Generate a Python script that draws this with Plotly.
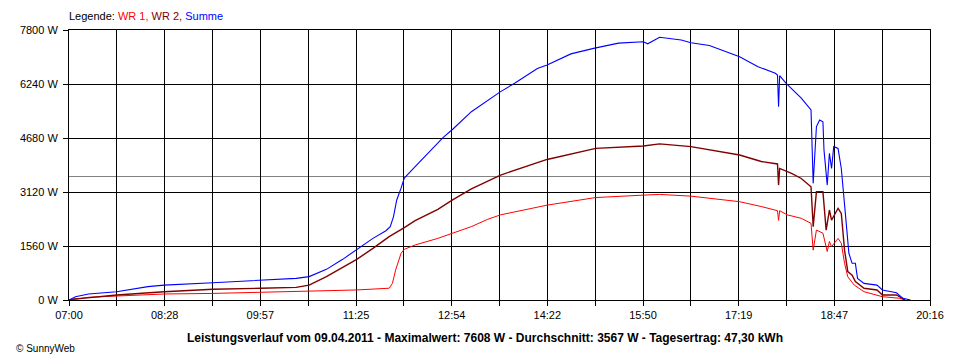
import plotly.graph_objects as go

# ---- data ----
wr1_time = ["07:00","07:05","07:18","07:44","08:28","09:13","09:57","10:30","11:26","11:56","11:59","12:02",
            "12:07","12:10","12:20","12:41","13:12","13:27","13:39","14:22","15:07","15:51","16:06","16:35",
            "17:20","17:40","17:53","17:55","17:56","17:57","18:04","18:17","18:26","18:28","18:31","18:37",
            "18:41","18:43","18:45","18:51","18:54","18:57","19:00","19:06","19:15","19:32","19:48","19:53"]
wr1_watt = [0,20,78,115,173,190,220,240,290,340,480,870,
            1350,1465,1590,1780,2120,2330,2460,2740,2960,3030,3050,3000,
            2840,2700,2600,2580,2300,2580,2460,2360,2215,1440,2020,1930,
            1400,1690,1540,1780,1640,1060,670,430,240,95,50,0]

wr2_time = ["07:00","07:05","07:12","07:44","08:28","09:13","09:57","10:30","10:42","10:58","11:13","11:26",
            "11:41","11:56","12:10","12:20","12:41","12:55","13:12","13:39","14:22","15:07","15:51","16:06",
            "16:35","17:20","17:40","17:53","17:55","17:56","17:57","18:08","18:17","18:26","18:28","18:31",
            "18:37","18:40","18:43","18:45","18:51","18:54","18:57","19:00","19:04","19:07","19:15","19:27",
            "19:32","19:45","19:53"]
wr2_watt = [0,30,48,145,240,310,340,365,430,675,940,1175,
            1490,1830,2090,2290,2620,2900,3210,3610,4060,4380,4450,4510,
            4430,4190,4000,3950,3930,3320,3800,3660,3510,3270,2120,3130,
            3130,2020,2600,2310,2650,2500,1440,820,720,530,340,290,
            145,145,0]

sum_time = ["07:00","07:06","07:18","07:44","08:13","08:28","09:13","09:57","10:30","10:42","10:58","11:13",
            "11:26","11:41","11:53","11:57","12:00","12:03","12:07","12:10","12:20","12:46","12:55","13:12",
            "13:39","13:52","14:13","14:22","14:44","15:05","15:28","15:51","15:55","16:06","16:26","16:35",
            "16:52","17:20","17:37","17:53","17:55","17:56","17:57","18:03","18:17","18:26","18:28","18:31",
            "18:34","18:37","18:38","18:41","18:43","18:45","18:47","18:51","18:54","18:56","18:58","19:01",
            "19:04","19:07","19:09","19:15","19:27","19:32","19:45","19:51","19:58"]
sum_watt = [0,96,173,240,385,430,500,560,625,675,885,1175,
            1465,1780,2000,2120,2410,2890,3230,3520,3850,4700,4940,5440,
            6020,6260,6690,6790,7110,7270,7420,7460,7400,7590,7510,7430,
            7350,7030,6740,6550,6500,5580,6480,6260,5830,5490,3370,5010,
            5200,5150,4330,3320,4240,3800,4430,4380,3800,3180,2410,1350,
            1060,1060,625,480,430,290,210,48,0]

x_tick_labels = ["07:00","08:28","09:57","11:25","12:54","14:22","15:50","17:19","18:47","20:16"]
y_tick_values = [0, 1560, 3120, 4680, 6240, 7800]
y_tick_labels = ["0 W", "1560 W", "3120 W", "4680 W", "6240 W", "7800 W"]
AVERAGE = 3567
title_text = "Leistungsverlauf vom 09.04.2011 - Maximalwert: 7608 W - Durchschnitt: 3567 W - Tagesertrag: 47,30 kWh"

def to_min(s):
    h, m = s.split(":")
    return int(h) * 60 + int(m)

t_start = to_min(x_tick_labels[0])
t_end = to_min(x_tick_labels[-1])
n_grid = (len(x_tick_labels) - 1) * 2
grid_vals = [t_start + (t_end - t_start) * i / n_grid for i in range(n_grid + 1)]
grid_text = [x_tick_labels[i // 2] if i % 2 == 0 else "" for i in range(n_grid + 1)]

FONT = "Liberation Sans, Arial, sans-serif"

fig = go.Figure()
fig.add_trace(go.Scatter(x=[to_min(t) for t in wr1_time], y=wr1_watt, mode="lines",
                         line=dict(color="#FF0000", width=1), name="WR 1"))
fig.add_trace(go.Scatter(x=[to_min(t) for t in wr2_time], y=wr2_watt, mode="lines",
                         line=dict(color="#800000", width=1.4), name="WR 2"))
fig.add_trace(go.Scatter(x=[to_min(t) for t in sum_time], y=sum_watt, mode="lines",
                         line=dict(color="#0000FF", width=1.1), name="Summe"))

fig.add_shape(type="line", xref="paper", x0=0, x1=1, yref="y", y0=AVERAGE, y1=AVERAGE,
              line=dict(color="#808080", width=1), layer="below")

axis_common = dict(tickmode="array", showgrid=True, gridcolor="black", gridwidth=1, zeroline=False,
                   showline=True, linecolor="black", linewidth=1, mirror=True,
                   ticks="outside", ticklen=5, tickcolor="black", tickwidth=1,
                   tickfont=dict(family=FONT, size=11, color="black"))

fig.update_layout(
    width=952, height=352,
    margin=dict(l=52, r=30, t=22, b=60),
    paper_bgcolor="white", plot_bgcolor="white",
    showlegend=False,
    font=dict(family=FONT, size=11, color="black"),
    xaxis=dict(range=[t_start, t_end], tickvals=grid_vals, ticktext=grid_text, **axis_common),
    yaxis=dict(range=[0, y_tick_values[-1]], tickvals=y_tick_values, ticktext=y_tick_labels,
               ticklabelstandoff=3, **axis_common),
)

fig.add_annotation(xref="paper", yref="paper", x=0, y=1, xshift=-2, yshift=6, xanchor="left", yanchor="bottom",
                   showarrow=False, align="left",
                   text="Legende: <span style='color:#FF0000'>WR 1,</span> <span style='color:#800000'>WR 2,</span> "
                        "<span style='color:#0000FF'>Summe</span>",
                   font=dict(family=FONT, size=11, color="black"))
fig.add_annotation(xref="paper", yref="paper", x=0.4828, y=0, yshift=-29, xanchor="center", yanchor="top",
                   showarrow=False, text="<b>" + title_text + "</b>",
                   font=dict(family=FONT, size=12, color="black"))
fig.add_annotation(xref="paper", yref="paper", x=-0.064, y=0, yshift=-41, xanchor="left", yanchor="top",
                   showarrow=False, text="© SunnyWeb",
                   font=dict(family=FONT, size=10, color="black"))

fig.write_html("out.html")
